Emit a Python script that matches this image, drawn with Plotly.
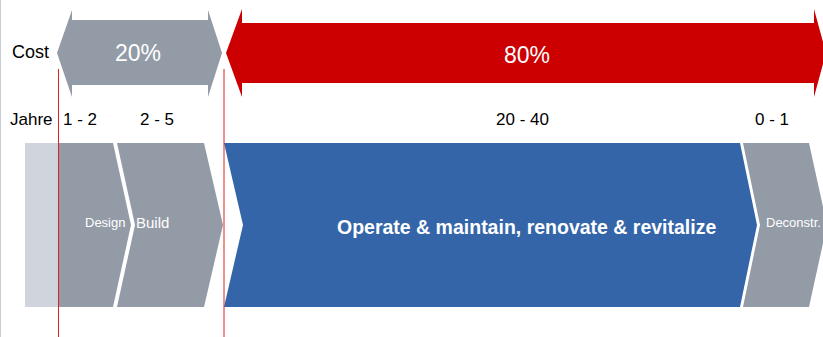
import plotly.graph_objects as go

# ---- data ----
row_labels = ["Cost", "Jahre"]
cost_shares = ["20%", "80%"]
year_ranges = ["1 - 2", "2 - 5", "20 - 40", "0 - 1"]
phases = ["Design", "Build", "Operate & maintain, renovate & revitalize", "Deconstr."]

# ---- styling / geometry (pixel-like coordinates) ----
GREY = "#939ba6"
LIGHT = "#d0d5dd"
RED = "#cc0000"
BLUE = "#3465a9"
FONT = "Liberation Sans Narrow, Arial Narrow, Liberation Sans, Arial, sans-serif"

W, H = 823, 337

fig = go.Figure()

def poly(pts, color):
    xs = [p[0] for p in pts] + [pts[0][0]]
    ys = [p[1] for p in pts] + [pts[0][1]]
    fig.add_trace(go.Scatter(x=xs, y=ys, mode="lines", fill="toself",
                             fillcolor=color, line=dict(width=0, color=color),
                             hoverinfo="skip", showlegend=False))

# cost arrows
poly([(57, 53), (72, 10), (72, 20), (208, 20), (208, 10), (222, 53),
      (208, 97), (208, 85), (72, 85), (72, 97)], GREY)
poly([(226, 53), (242, 9), (242, 23), (814, 23), (814, 9), (826, 53),
      (814, 97), (814, 83), (242, 83), (242, 97)], RED)

# phase chevrons
T, B, M = 143, 307, 225
poly([(25, T), (58, T), (58, B), (25, B)], LIGHT)
poly([(58, T), (113, T), (131, M), (113, B), (58, B)], GREY)
poly([(117, T), (204, T), (223, M), (204, B), (117, B), (135, M)], GREY)
poly([(224, T), (740, T), (757, M), (740, B), (224, B), (243, M)], BLUE)
poly([(743, T), (809, T), (827, M), (809, B), (743, B), (760, M)], GREY)

shapes = [
    dict(type="line", x0=58.5, x1=58.5, y0=69, y1=H, line=dict(color="#e02020", width=1)),
    dict(type="line", x0=224, x1=224, y0=69, y1=H, line=dict(color="#e02020", width=1)),
    dict(type="line", x0=0.5, x1=0.5, y0=0, y1=H, line=dict(color="#c8ccd4", width=1)),
]

ann = []
def txt(s, x, y, size, color="black", anchor="center", bold=False):
    if bold:
        s = "<b>" + s + "</b>"
    ann.append(dict(text=s, x=x, y=y, xref="x", yref="y", showarrow=False,
                    xanchor=anchor, yanchor="middle",
                    font=dict(family=FONT, size=size, color=color)))

txt(row_labels[0], 30, 52, 18)
txt(row_labels[1], 31, 119, 17)
txt(cost_shares[0], 138, 53, 23, "white")
txt(cost_shares[1], 527, 55, 23, "white")
for lab, x in zip(year_ranges, [80, 157, 522, 772]):
    txt(lab, x, 119, 17)
txt(phases[0], 105, 222, 13, "white")
txt(phases[1], 152, 222, 15, "white")
txt(phases[2], 526, 227, 19.5, "white", bold=True)
txt(phases[3], 764, 222, 13, "white", anchor="left")

fig.update_layout(
    width=W, height=H, margin=dict(l=0, r=0, t=0, b=0),
    paper_bgcolor="white", plot_bgcolor="white",
    xaxis=dict(range=[0, W], visible=False, fixedrange=True),
    yaxis=dict(range=[H, 0], visible=False, fixedrange=True),
    shapes=shapes, annotations=ann, showlegend=False,
)

fig.write_html("out.html", config={"displayModeBar": False},
               post_script="document.body.style.margin='0';document.body.style.overflow='hidden';")
